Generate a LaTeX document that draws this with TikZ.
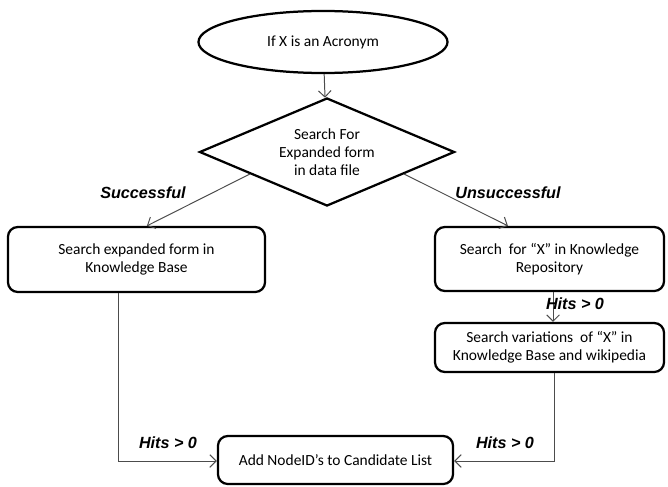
\documentclass[tikz,border=0pt]{standalone}
\usepackage{fontspec}
\setmainfont{Carlito}
\newfontfamily\labelfont{Liberation Sans}
\usetikzlibrary{arrows.meta,calc,shapes.geometric}

\begin{document}
\begin{tikzpicture}[x=0.025cm,y=-0.025cm]
\tikzset{
  flownode/.style={draw=black,line width=1.6pt,font=\fontsize{11}{13}\selectfont,align=center,inner sep=2pt},
  flowbox/.style={flownode,rectangle,rounded corners=7pt},
  flowedge/.style={draw=black!70,line width=0.7pt,-{Straight Barb[length=4.5pt,width=9pt]}},
  branchlabel/.style={font=\labelfont\bfseries\itshape\fontsize{11.5}{13}\selectfont}
}
\useasboundingbox (0,0) rectangle (668,486);
\node[flownode,ellipse,minimum width=6.225cm,minimum height=1.55cm] (n_acr) at (323,42) {If X is an Acronym};
\node[flownode,diamond,shape aspect=2.36,inner sep=0pt,minimum width=6.375cm,minimum height=2.7cm] (n_exp) at (327,152) {Search For\\Expanded form\\in data file};
\node[flowbox,minimum width=6.425cm,minimum height=1.625cm] (n_kb) at (136.5,259.5) {Search expanded form in\\Knowledge Base};
\node[flowbox,minimum width=5.725cm,minimum height=1.6cm] (n_rep) at (549.5,259) {Search~ for ``X'' in Knowledge\\Repository};
\node[flowbox,minimum width=5.725cm,minimum height=1.225cm] (n_var) at (549.5,347.5) {Search variations~ of ``X'' in\\Knowledge Base and wikipedia};
\node[flowbox,minimum width=5.875cm,minimum height=1.2cm] (n_add) at (335.5,460) {Add NodeID’s to Candidate List};
\coordinate (c_left) at (118,461);
\coordinate (c_right) at (554,461);
\draw[flowedge] (n_acr) -- (n_exp);
\draw[flowedge] ($(n_exp.west)!0.4!(n_exp.south)$) -- ([xshift=0.26cm]n_kb.north);
\draw[flowedge] ($(n_exp.east)!0.4!(n_exp.south)$) -- ([xshift=-1.04cm]n_rep.north);
\draw[flowedge] ([xshift=0.09cm]n_rep.south) -- ([xshift=0.09cm]n_var.north);
\draw[flowedge] (n_kb.south -| c_left) -- (c_left) -- (n_add.west |- c_left);
\draw[flowedge] (n_var.south -| c_right) -- (c_right) -- (n_add.east |- c_right);
\node[branchlabel] (l_succ) at (143,193) {Successful};
\node[branchlabel] (l_unsucc) at (508,193) {Unsuccessful};
\node[branchlabel] (l_hits1) at (575,304) {Hits > 0};
\node[branchlabel] (l_hits2) at (168,443) {Hits > 0};
\node[branchlabel] (l_hits3) at (505,443) {Hits > 0};
\end{tikzpicture}
\end{document}
